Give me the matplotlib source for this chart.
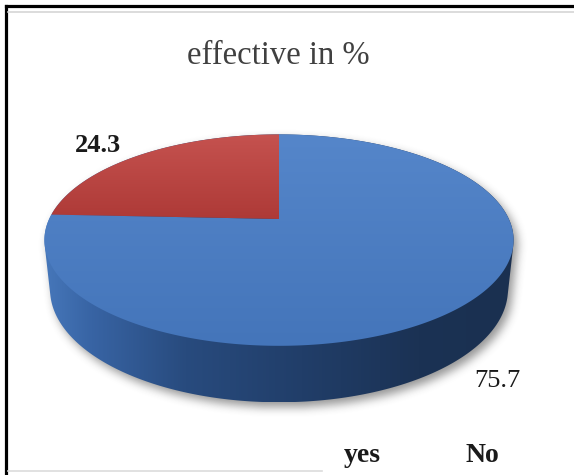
import numpy as np
import matplotlib.pyplot as plt
from matplotlib.path import Path
from matplotlib.patches import PathPatch
from matplotlib.colors import LinearSegmentedColormap

# data
labels = ['yes', 'No']
values = [75.7, 24.3]
value_text = ['75.7', '24.3']
top_colors = [('#5586ca', '#4475ba'), ('#c5524f', '#ae3a37')]
side_stops = ['#4677ba', '#3864a4', '#284b7e', '#213e69', '#1b3254', '#1a3050']

W, H = 574, 475
fig = plt.figure(figsize=(W / 100, H / 100), dpi=100)
ax = fig.add_axes([0, 0, 1, 1])
ax.set_xlim(0, W)
ax.set_ylim(H, 0)
ax.axis('off')

# simple perspective camera looking down on the disc
elev = np.radians(26.2)
dist = 4.49
focal = 1032.0
cx, cy = 279.0, 219.0
thick = 0.24

# pixel offsets of the value labels from their rim anchor
label_shift = [(38, 22), (-42, -9)]


def project(X, Y, Z):
    yc = Y * np.cos(elev) + Z * np.sin(elev)
    zc = -Y * np.sin(elev) + Z * np.cos(elev) + dist
    return cx + X / zc * focal, cy - yc / zc * focal


def hull(pts):
    pts = sorted(set(map(tuple, np.round(pts, 3))))
    def cross(o, a, b):
        return (a[0] - o[0]) * (b[1] - o[1]) - (a[1] - o[1]) * (b[0] - o[0])
    lower, upper = [], []
    for p in pts:
        while len(lower) >= 2 and cross(lower[-2], lower[-1], p) <= 0:
            lower.pop()
        lower.append(p)
    for p in reversed(pts):
        while len(upper) >= 2 and cross(upper[-2], upper[-1], p) <= 0:
            upper.pop()
        upper.append(p)
    return np.array(lower[:-1] + upper[:-1])


def gradient_fill(path, cmap, vertical, z):
    patch = PathPatch(path, facecolor='none', edgecolor='none')
    ax.add_patch(patch)
    x0, y0 = path.vertices.min(axis=0)
    x1, y1 = path.vertices.max(axis=0)
    g = np.linspace(0, 1, 256)
    img = g[:, None] if vertical else g[None, :]
    im = ax.imshow(img, cmap=cmap, extent=(x0, x1, y1, y0), origin='upper',
                   aspect='auto', zorder=z, interpolation='bilinear')
    im.set_clip_path(patch)


t = np.radians(np.linspace(0, 360, 721))
top_rim = np.column_stack(project(np.cos(t), 0.0, np.sin(t)))
bot_rim = np.column_stack(project(np.cos(t), -thick, np.sin(t)))
body = hull(np.vstack([top_rim, bot_rim]))
body_path = Path(np.vstack([body, body[:1]]), closed=True)

# soft drop shadow under the body
yy, xx = np.mgrid[0:H, 0:W]
grid = np.column_stack([xx.ravel() + 0.5 - 4, yy.ravel() + 0.5 - 5])
mask = body_path.contains_points(grid).reshape(H, W).astype(float)
k = np.ones(9) / 9
for _ in range(3):
    mask = np.apply_along_axis(lambda m: np.convolve(m, k, mode='same'), 0, mask)
    mask = np.apply_along_axis(lambda m: np.convolve(m, k, mode='same'), 1, mask)
shadow = np.zeros((H, W, 4))
shadow[..., :3] = 0.25
shadow[..., 3] = mask * 0.55
ax.imshow(shadow, extent=(0, W, H, 0), origin='upper', zorder=1,
          interpolation='bilinear')

# side wall
side_cmap = LinearSegmentedColormap.from_list(
    'side', list(zip([0, 0.1, 0.3, 0.55, 0.8, 1.0], side_stops)))
gradient_fill(body_path, side_cmap, vertical=False, z=2)

# top face wedges, clockwise from 12 o'clock
fracs = np.array(values) / sum(values)
bounds = 90 - 360 * np.concatenate([[0], np.cumsum(fracs)])
for i, lab in enumerate(labels):
    a = np.radians(np.linspace(bounds[i], bounds[i + 1], 400))
    px, py = project(np.cos(a), 0.0, np.sin(a))
    verts = np.vstack([[cx, cy], np.column_stack([px, py]), [cx, cy]])
    cmap = LinearSegmentedColormap.from_list(lab, top_colors[i])
    gradient_fill(Path(verts, closed=True), cmap, vertical=True, z=3 + i * 0.1)

    # value label anchored on the rim at the wedge's middle angle
    mid = np.radians((bounds[i] + bounds[i + 1]) / 2)
    far = np.sin(mid) > 0
    lx, ly = project(np.cos(mid), 0.0 if far else -thick, np.sin(mid))
    dx, dy = label_shift[i]
    ax.text(lx + dx, ly + dy, value_text[i], ha='center', va='center',
            fontsize=19, family='Liberation Serif',
            fontweight='bold' if far else 'normal',
            color='#1a1a1a', zorder=6)

ax.text(278, 56, 'effective in %', ha='center', va='center', fontsize=23.5,
        family='Liberation Serif', color='#404040', zorder=6)

# legend entries
for x, lab in zip([362, 482], labels):
    ax.text(x, 456, lab, ha='center', va='center', fontsize=20,
            family='Liberation Serif', fontweight='bold', color='#1a1a1a',
            zorder=6)

# frame lines
ax.plot([6, 6], [H, 6], color='black', lw=2.3, solid_capstyle='projecting', zorder=7)
ax.plot([6, W], [6, 6], color='black', lw=2.3, solid_capstyle='projecting', zorder=7)
ax.plot([8, W], [12, 12], color='#d6d6d6', lw=1.2, zorder=7)
ax.plot([8, 322], [471, 471], color='#dcdcdc', lw=1.2, zorder=7)

fig.savefig('out.png', dpi=100)
